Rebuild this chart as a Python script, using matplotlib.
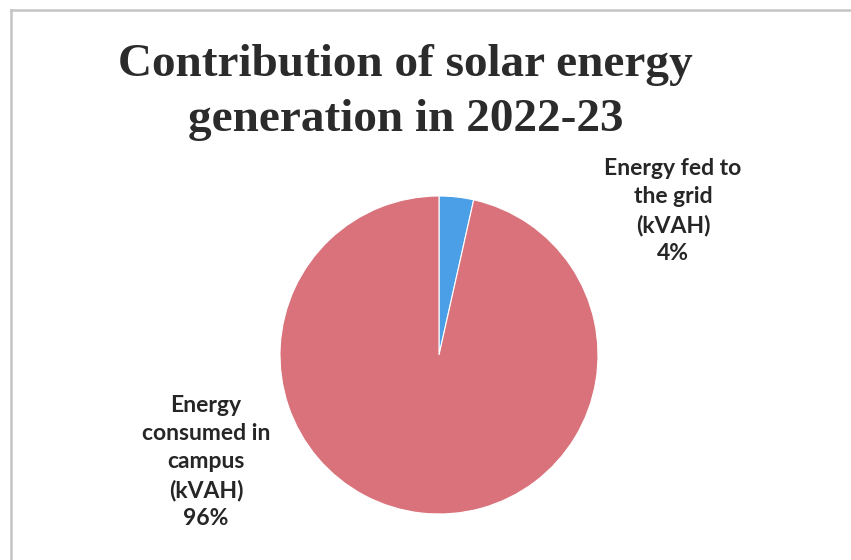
import matplotlib
matplotlib.use("Agg")
import matplotlib.pyplot as plt
from matplotlib.lines import Line2D

# Data
categories = ["Energy fed to\nthe grid\n(kVAH)", "Energy\nconsumed in\ncampus\n(kVAH)"]
shares = [3.5, 96.5]
pct_labels = ["4%", "96%"]
colors = ["#4A9FE6", "#D9727B"]

W, H = 851, 560
fig = plt.figure(figsize=(W / 100, H / 100), dpi=100)

# pie axes: centre (439, 355) px, radius 159 px
cx, cy, r = 439, 355, 159
ax = fig.add_axes([(cx - r) / W, (H - cy - r) / H, 2 * r / W, 2 * r / H])
ax.pie(shares, colors=colors, startangle=90, counterclock=False,
       wedgeprops=dict(edgecolor="white", linewidth=0.8))
ax.set_xlim(-1, 1)
ax.set_ylim(-1, 1)
ax.set_aspect("equal")
ax.axis("off")

# Title
title_font = dict(family="Liberation Serif", weight="bold", size=34, color="#2b2b2b")
fig.text(405 / W, 1 - 76 / H, "Contribution of solar energy", ha="center", va="baseline", **title_font)
fig.text(406 / W, 1 - 131 / H, "generation in 2022-23", ha="center", va="baseline", **title_font)

# Data labels
label_font = dict(family="Lato", weight="bold", size=16.5, color="#262626", linespacing=1.42)
fig.text(673 / W, 1 - 211 / H, categories[0] + "\n" + pct_labels[0], ha="center", va="center", **label_font)
fig.text(206 / W, 1 - 462 / H, categories[1] + "\n" + pct_labels[1], ha="center", va="center", **label_font)

# Chart frame (top and left edges visible)
frame_col = "#c4c4c4"
fig.add_artist(Line2D([11 / W, 1], [1 - 10 / H, 1 - 10 / H], color=frame_col, lw=1.8))
fig.add_artist(Line2D([11 / W, 11 / W], [0, 1 - 10 / H], color=frame_col, lw=1.8))

fig.savefig("out.png", dpi=100)
